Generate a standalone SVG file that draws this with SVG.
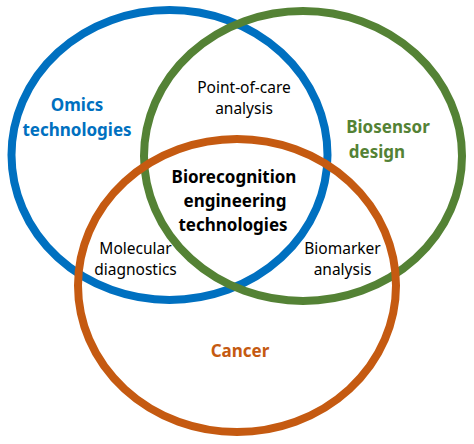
<svg xmlns="http://www.w3.org/2000/svg" width="474" height="444" viewBox="0 0 474 444">
<style>
.ring{fill:none;stroke-width:8}
.lbl{font-family:"Noto Sans","Open Sans",sans-serif;text-anchor:middle}
.reg{font-size:15.5px;fill:#000}
.bold{font-size:17px;font-weight:bold}
</style>
<rect width="474" height="444" fill="#fff"/>
<g id="omics">
<ellipse class="ring" cx="169.5" cy="155" rx="158" ry="145" stroke="#0070C0"/>
<text class="lbl bold" fill="#0070C0" x="77" y="111">Omics</text>
<text class="lbl bold" fill="#0070C0" x="77" y="136">technologies</text>
</g>
<g id="biosensor">
<ellipse class="ring" cx="303" cy="156" rx="159" ry="145" stroke="#548235"/>
<text class="lbl bold" fill="#548235" x="388" y="133">Biosensor</text>
<text class="lbl bold" fill="#548235" x="377" y="158">design</text>
</g>
<g id="cancer">
<ellipse class="ring" cx="237" cy="285.5" rx="159" ry="146.5" stroke="#C55A11"/>
<text class="lbl bold" fill="#C55A11" x="240" y="357">Cancer</text>
</g>
<g id="poc">
<text class="lbl reg" x="244" y="93">Point-of-care</text>
<text class="lbl reg" x="244" y="114">analysis</text>
</g>
<g id="center">
<text class="lbl bold" fill="#000" x="234" y="183">Biorecognition</text>
<text class="lbl bold" fill="#000" x="235" y="207">engineering</text>
<text class="lbl bold" fill="#000" x="233" y="231">technologies</text>
</g>
<g id="molecular">
<text class="lbl reg" x="135.5" y="254">Molecular</text>
<text class="lbl reg" x="135.5" y="275">diagnostics</text>
</g>
<g id="biomarker">
<text class="lbl reg" x="342.5" y="254">Biomarker</text>
<text class="lbl reg" x="342.5" y="275">analysis</text>
</g>
<g id="connectors"></g>
</svg>
